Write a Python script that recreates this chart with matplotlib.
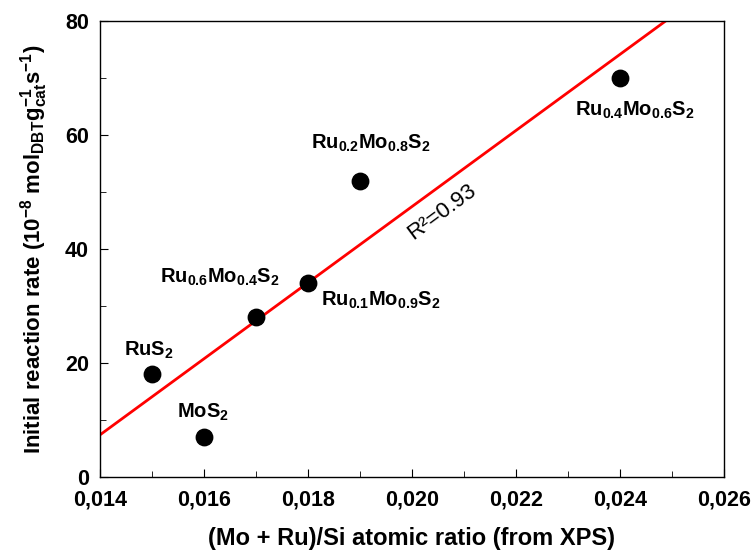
import numpy as np
import matplotlib
matplotlib.use('Agg')
from matplotlib import pyplot as plt

# Data
ratio = [0.015, 0.016, 0.017, 0.018, 0.019, 0.024]
rate = [18, 7, 28, 34, 52, 70]
names = [r'RuS$_{2}$', r'MoS$_{2}$', r'Ru$_{0.6}$Mo$_{0.4}$S$_{2}$',
         r'Ru$_{0.1}$Mo$_{0.9}$S$_{2}$', r'Ru$_{0.2}$Mo$_{0.8}$S$_{2}$',
         r'Ru$_{0.4}$Mo$_{0.6}$S$_{2}$']
label_x = [0.01446, 0.01548, 0.01515, 0.01825, 0.01806, 0.02313]
label_y = [22.3, 11.4, 35.1, 31.0, 58.6, 64.4]

# Linear fit line (end points)
fit_x = [0.014, 0.026]
fit_y = [7.4, 87.5]

plt.rcParams['font.family'] = ['Liberation Sans', 'DejaVu Sans']
plt.rcParams['font.weight'] = 'bold'
plt.rcParams['mathtext.fontset'] = 'custom'
plt.rcParams['mathtext.rm'] = 'Liberation Sans:bold'
plt.rcParams['mathtext.it'] = 'Liberation Sans:bold'
plt.rcParams['mathtext.bf'] = 'Liberation Sans:bold'
plt.rcParams['mathtext.default'] = 'rm'

fig = plt.figure(figsize=(7.54, 5.56), dpi=100)
ax = fig.add_axes([0.1326, 0.142, 0.8274, 0.820])

ax.plot(fit_x, fit_y, color='red', lw=2, zorder=2)
ax.scatter(ratio, rate, s=140, color='black', zorder=3)

for n, lx, ly in zip(names, label_x, label_y):
    ax.text(lx, ly, n, fontsize=14.5, fontweight='bold', va='center', ha='left')

ax.text(0.02058, 46.5, 'R²=0.93', fontsize=16, fontweight='normal',
        rotation=36.4, ha='center', va='center')

ax.set_xlim(0.014, 0.026)
ax.set_ylim(0, 80)
ax.set_xticks(np.arange(0.014, 0.0261, 0.002))
ax.set_xticklabels(['0,014', '0,016', '0,018', '0,020', '0,022', '0,024', '0,026'])
ax.set_xticks(np.arange(0.015, 0.026, 0.002), minor=True)
ax.set_yticks([0, 20, 40, 60, 80])
ax.set_yticks([10, 30, 50, 70], minor=True)
ax.tick_params(which='both', direction='in', labelsize=15.5)
ax.tick_params(which='major', length=6)
ax.tick_params(which='minor', length=4)
ax.tick_params(axis='x', pad=9)
ax.tick_params(axis='y', pad=8)

for sp in ax.spines.values():
    sp.set_linewidth(1)

ax.set_xlabel('(Mo + Ru)/Si atomic ratio (from XPS)', fontsize=17,
              fontweight='bold', labelpad=12)
ax.set_ylabel(r'Initial reaction rate (10$^{-8}$ mol$_{DBT}$g$_{cat}^{-1}$s$^{-1}$)',
              fontsize=16, fontweight='bold', labelpad=11)

fig.savefig('out.png', dpi=100)
